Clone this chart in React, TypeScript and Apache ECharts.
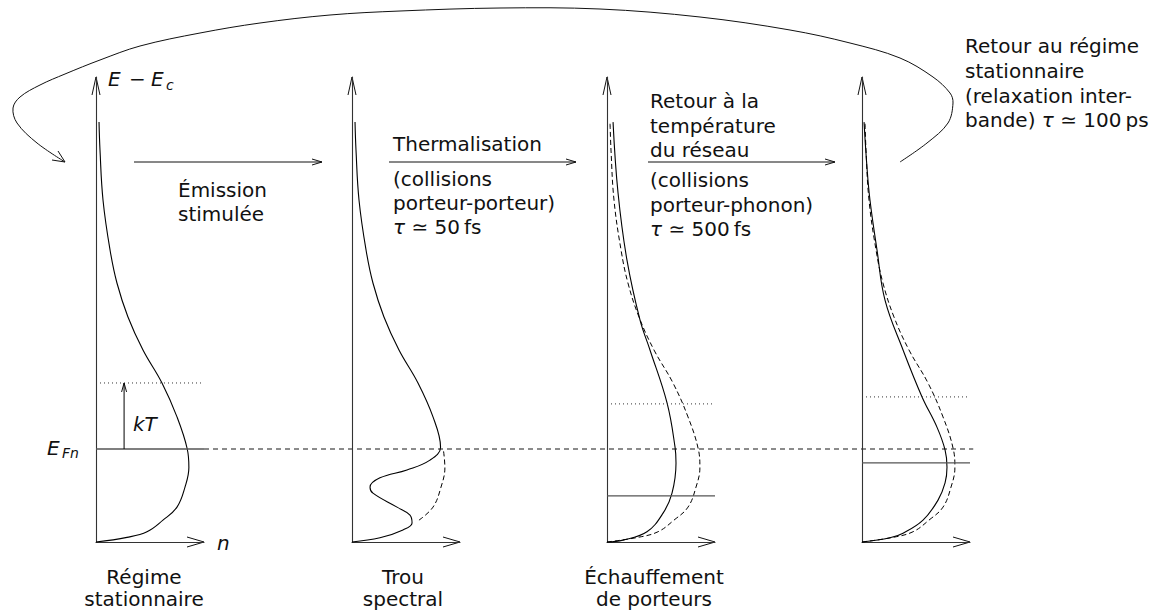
import React, { useEffect, useRef } from "react";
import * as echarts from "echarts";

// ---------- data (n along x, E - Ec along y, arbitrary units) ----------
// stationary (equilibrium) distribution, bottom -> top
const equilibrium: [number, number][] = [
  [0, 0], [2.87, 0.1], [4.72, 0.22], [6.2, 0.47], [7.5, 0.75], [8.24, 1.18],
  [8.6, 1.6], [8.45, 2.0], [7.5, 2.69], [6.11, 3.42], [4.35, 4.13], [2.96, 4.84],
  [1.94, 5.57], [1.3, 6.28], [0.65, 7.35], [0.37, 8.43], [0.28, 9.03],
];
// spectral hole burnt by stimulated emission
const spectralHole: [number, number][] = [
  [0, 0], [2.59, 0.09], [4.72, 0.26], [5.56, 0.41], [5.37, 0.58], [4.17, 0.75],
  [1.94, 1.05], [1.67, 1.18], [2.59, 1.38], [5.09, 1.55], [7.22, 1.76], [8.2, 2.04],
  [7.5, 2.69], [6.11, 3.42], [4.35, 4.13], [2.96, 4.84], [1.94, 5.57], [1.3, 6.28],
  [0.65, 7.35], [0.37, 8.43], [0.28, 9.03],
];
// heated carriers after thermalisation
const hotCarriers: [number, number][] = [
  [0, 0], [1.48, 0.04], [3.7, 0.22], [5.19, 0.62], [6.02, 1.05], [6.39, 1.7],
  [6.3, 2.04], [5.56, 2.99], [3.98, 4.13], [3.06, 4.77], [1.85, 6.06], [1.02, 7.51],
  [0.56, 9.03],
];
// carriers back at lattice temperature
const latticeTemp: [number, number][] = [
  [0, 0], [2.59, 0.09], [3.8, 0.19], [5.65, 0.47], [7.04, 0.9], [7.69, 1.27],
  [7.87, 1.61], [7.69, 1.98], [6.94, 2.47], [5.56, 3.12], [3.8, 4.13], [2.13, 5.2],
  [1.39, 6.28], [0.74, 7.35], [0.46, 8.06], [0.19, 9.03],
];
const efn = 2.0; // stationary quasi-Fermi level
const fermiLevels: (number | null)[] = [2.0, null, 0.99, 1.7];
const kTLevels: (number | null)[] = [3.42, null, 2.97, 3.12];
const levelExtent = 10;
const efnDashedEnd = 10.3; // in panel-4 n units
const kTArrowN = 2.6;
const bottomLabels = [["Régime", "stationnaire"], ["Trou", "spectral"], ["Échauffement", "de porteurs"]];

// ---------- layout ----------
const PANEL_LEFT = [96, 352, 607, 862];
const TOP = 77;
const W = 108;
const H = 465;
const NMAX = 10;
const EMAX = 10;
const FONT = "DejaVu Sans";
const INK = "#111";

const px = (i: number, n: number, e: number): [number, number] => [
  PANEL_LEFT[i] + (n / NMAX) * W,
  TOP + H - (e / EMAX) * H,
];

function txt(x: number, y: number, text: string, extra: any = {}) {
  const align = extra.align || "left";
  const style: any = {
    text,
    fontFamily: FONT,
    fontSize: extra.fontSize || 20,
    fontStyle: extra.italic ? "italic" : "normal",
    fill: INK,
    align,
    textAlign: align,
    verticalAlign: "middle",
    textVerticalAlign: "middle",
  };
  if (extra.rich) style.rich = extra.rich;
  return { type: "text", x, y, silent: true, style };
}

function poly(points: number[][], extra: any = {}) {
  return {
    type: "polyline",
    silent: true,
    shape: { points, smooth: extra.smooth || 0 },
    style: {
      stroke: extra.stroke || INK,
      lineWidth: extra.lineWidth || 1,
      fill: null,
      lineDash: extra.lineDash || null,
    },
  };
}

const tauRich = { i: { fontStyle: "italic", fontFamily: FONT, fontSize: 20, fill: INK } };

export default function App() {
  const ref = useRef<HTMLDivElement>(null);
  useEffect(() => {
    if (!ref.current) return;
    const chart = echarts.init(ref.current, null, { renderer: "svg" });

    const grids = PANEL_LEFT.map((l) => ({ left: l, top: TOP, width: W, height: H }));
    const axisCommon = {
      type: "value",
      min: 0,
      axisLine: { show: true, lineStyle: { color: "#333", width: 1.1 } },
      axisTick: { show: false },
      axisLabel: { show: false },
      splitLine: { show: false },
    };
    const xAxes = PANEL_LEFT.map((_, i) => ({ ...axisCommon, max: NMAX, gridIndex: i }));
    const yAxes = PANEL_LEFT.map((_, i) => ({ ...axisCommon, max: EMAX, gridIndex: i }));

    const line = (i: number, data: number[][], ls: any, smooth = 0.4) => ({
      type: "line",
      xAxisIndex: i,
      yAxisIndex: i,
      data,
      symbol: "none",
      showSymbol: false,
      smooth,
      clip: false,
      silent: true,
      animation: false,
      lineStyle: ls,
    });
    const solid = { color: "#000", width: 1.1 };
    const dashed = { color: "#000", width: 1, type: [5, 3] };
    const greyLevel = { color: "#555", width: 1.3 };
    const dotted = { color: "#333", width: 1, type: [1, 3] };

    const series: any[] = [];
    // panel 1
    series.push(line(0, equilibrium, solid));
    // panel 2
    series.push(line(1, equilibrium.filter((p) => p[1] >= 0.38 && p[1] <= 2.1), dashed));
    series.push(line(1, spectralHole, solid));
    // panel 3
    series.push(line(2, equilibrium, dashed));
    series.push(line(2, hotCarriers, solid));
    // panel 4
    series.push(line(3, equilibrium, dashed));
    series.push(line(3, latticeTemp, solid));
    // levels
    fermiLevels.forEach((lv, i) => {
      if (lv !== null) series.push(line(i, [[0, lv], [levelExtent, lv]], greyLevel, 0));
    });
    kTLevels.forEach((lv, i) => {
      if (lv !== null) series.push(line(i, [[0, lv], [levelExtent, lv]], dotted, 0));
    });
    series.push(line(0, [[kTArrowN, efn], [kTArrowN, kTLevels[0] as number]], { color: "#000", width: 1 }, 0));

    // graphics
    const g: any[] = [];
    // dashed stationary quasi-Fermi level carried across the panels
    const dA = px(0, levelExtent, efn);
    const dB = px(3, efnDashedEnd, efn);
    g.push(poly([dA, dB], { stroke: "#666", lineWidth: 1.3, lineDash: [5, 4] }));

    PANEL_LEFT.forEach((l) => {
      g.push(poly([[l - 4, TOP + 18], [l, TOP], [l + 4, TOP + 18]]));
      g.push(poly([[l + W - 17, TOP + H - 5], [l + W, TOP + H], [l + W - 17, TOP + H + 5]]));
    });
    const [kx, ky] = px(0, kTArrowN, kTLevels[0] as number);
    g.push(poly([[kx - 2.5, ky + 9], [kx, ky], [kx + 2.5, ky + 9]]));

    // horizontal process arrows
    [[134, 322], [389, 576], [648, 835]].forEach(([a, b]) => {
      g.push(poly([[a, 162], [b, 162]]));
      g.push(poly([[b - 10, 159], [b, 162], [b - 10, 165]]));
    });

    // big return loop
    g.push(
      poly(
        [
          [900, 162], [927, 143], [948, 123], [953, 103], [950, 93], [933, 77], [900, 58],
          [850, 43], [790, 30], [700, 17], [600, 9], [500, 8], [400, 11], [330, 15],
          [260, 23], [200, 33], [140, 46], [100, 60], [65, 74], [40, 85], [20, 97],
          [13, 108], [17, 123], [37, 143], [65, 162],
        ],
        { smooth: 0.35 }
      )
    );
    g.push(poly([[52, 160], [65, 162], [58, 151]]));

    // axis labels
    g.push(txt(108, 79, "E", { italic: true }));
    g.push(txt(129, 79, "−"));
    g.push(txt(151, 79, "E", { italic: true }));
    g.push(txt(166, 85, "c", { italic: true, fontSize: 14 }));
    g.push(txt(217, 543, "n", { italic: true }));
    g.push(txt(133, 424, "kT", { italic: true }));
    g.push(txt(47, 448, "E", { italic: true }));
    g.push(txt(62, 453, "Fn", { italic: true, fontSize: 14 }));

    // process texts
    g.push(txt(178, 190, "Émission"));
    g.push(txt(178, 214, "stimulée"));
    g.push(txt(393, 144, "Thermalisation"));
    g.push(txt(393, 179, "(collisions"));
    g.push(txt(393, 203, "porteur-porteur)"));
    g.push(txt(393, 227, "{i|τ} ≃ 50\u2009fs", { rich: tauRich }));
    g.push(txt(650, 101, "Retour à la"));
    g.push(txt(650, 126, "température"));
    g.push(txt(650, 150, "du réseau"));
    g.push(txt(650, 180, "(collisions"));
    g.push(txt(650, 205, "porteur-phonon)"));
    g.push(txt(650, 229, "{i|τ} ≃ 500\u2009fs", { rich: tauRich }));
    g.push(txt(965, 46, "Retour au régime"));
    g.push(txt(965, 71, "stationnaire"));
    g.push(txt(965, 96, "(relaxation inter-"));
    g.push(txt(965, 120, "bande) {i|τ} ≃ 100\u2009ps", { rich: tauRich }));

    // bottom labels
    const centers = [144, 403, 654];
    bottomLabels.forEach((lines, i) => {
      g.push(txt(centers[i], 577, lines[0], { align: "center" }));
      g.push(txt(centers[i], 599, lines[1], { align: "center" }));
    });

    chart.setOption({
      animation: false,
      backgroundColor: "#fff",
      grid: grids,
      xAxis: xAxes,
      yAxis: yAxes,
      series,
      graphic: g,
    });
    return () => chart.dispose();
  }, []);
  return (
    <div
      ref={ref}
      style={{ position: "absolute", left: 0, top: 0, width: 1167, height: 612, background: "#fff" }}
    />
  );
}
